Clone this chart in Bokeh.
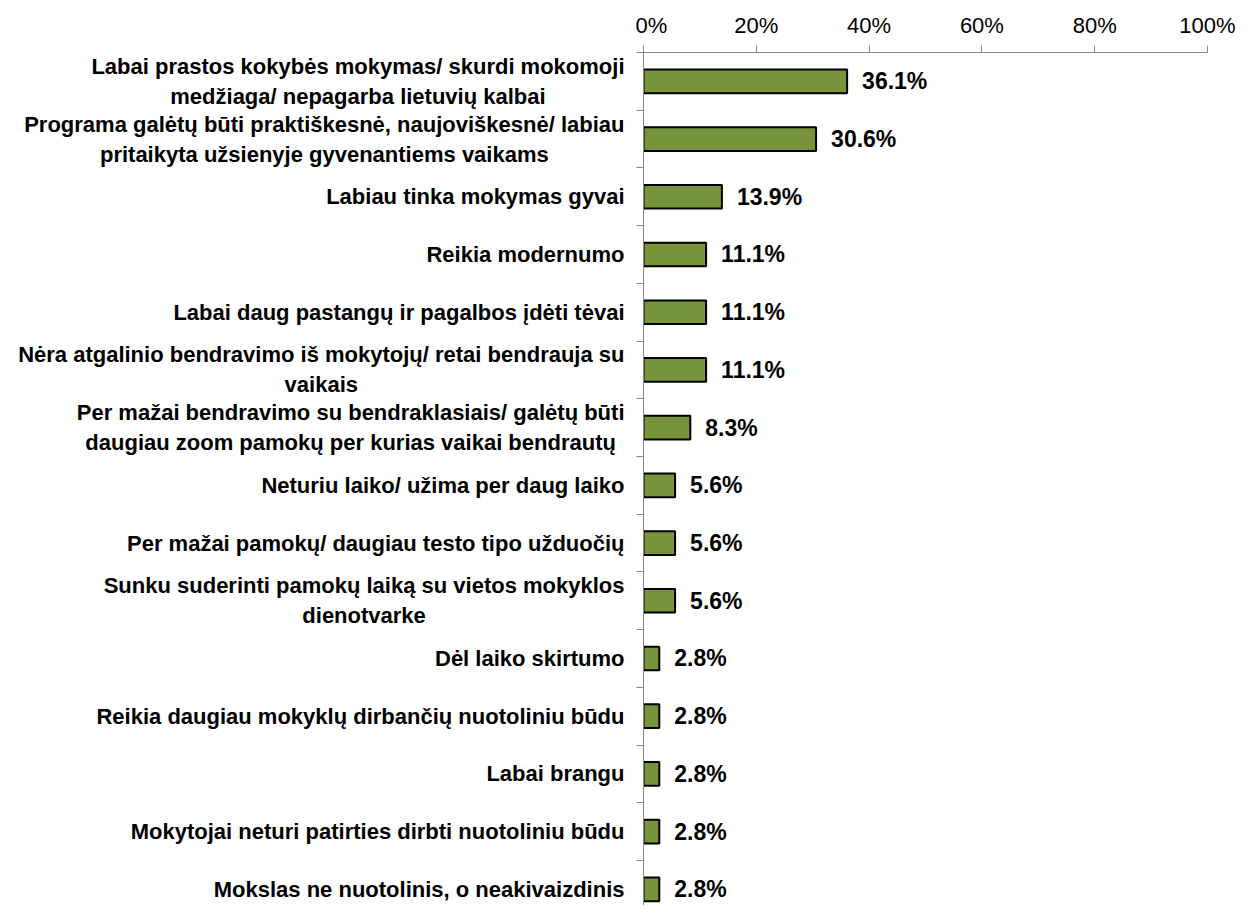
from bokeh.plotting import figure
from bokeh.layouts import row
from bokeh.models import Range1d, FixedTicker, PrintfTickFormatter
from bokeh.core.properties import value
from bokeh.embed import file_html
from bokeh.resources import INLINE

categories = [
    "Labai prastos kokybės mokymas/ skurdi mokomoji\nmedžiaga/ nepagarba lietuvių kalbai",
    "Programa galėtų būti praktiškesnė, naujoviškesnė/ labiau\npritaikyta užsienyje gyvenantiems vaikams",
    "Labiau tinka mokymas gyvai",
    "Reikia modernumo",
    "Labai daug pastangų ir pagalbos įdėti tėvai",
    "Nėra atgalinio bendravimo iš mokytojų/ retai bendrauja su\nvaikais",
    "Per mažai bendravimo su bendraklasiais/ galėtų būti\ndaugiau zoom pamokų per kurias vaikai bendrautų",
    "Neturiu laiko/ užima per daug laiko",
    "Per mažai pamokų/ daugiau testo tipo užduočių",
    "Sunku suderinti pamokų laiką su vietos mokyklos\ndienotvarke",
    "Dėl laiko skirtumo",
    "Reikia daugiau mokyklų dirbančių nuotoliniu būdu",
    "Labai brangu",
    "Mokytojai neturi patirties dirbti nuotoliniu būdu",
    "Mokslas ne nuotolinis, o neakivaizdinis",
]
values = [36.1, 30.6, 13.9, 11.1, 11.1, 11.1, 8.3, 5.6, 5.6, 5.6, 2.8, 2.8, 2.8, 2.8, 2.8]
value_labels = ["36.1%", "30.6%", "13.9%", "11.1%", "11.1%", "11.1%", "8.3%", "5.6%", "5.6%", "5.6%",
                "2.8%", "2.8%", "2.8%", "2.8%", "2.8%"]
x_ticks = [0, 20, 40, 60, 80, 100]

idx = list(range(len(categories)))
FONT = "Liberation Sans"
AXIS_COLOR = "#868686"
H = 905
LEFT_W = 635
RIGHT_W = 1235 - LEFT_W

y_range = Range1d(14.28, -0.5)

# ---- label panel (left) ----
lab = figure(width=LEFT_W, height=H, output_backend="svg", toolbar_location=None,
             x_range=Range1d(0, 1), y_range=y_range,
             min_border_left=0, min_border_right=0, min_border_top=52, min_border_bottom=0)
lab.axis.visible = False
lab.grid.visible = False
lab.outline_line_color = None
lab.background_fill_color = "white"
lab.border_fill_color = "white"
lab.text(x=[1] * len(categories), y=idx, text=categories, x_offset=-11,
         anchor="center_right", text_align="center", text_baseline="middle",
         text_line_height=1.2,
         text_font=value(FONT), text_font_style="bold", text_font_size="22px",
         text_color="black")

# ---- chart panel (right) ----
p = figure(width=RIGHT_W, height=H, output_backend="svg", toolbar_location=None,
           x_range=Range1d(0, 100), y_range=y_range,
           x_axis_location="above",
           min_border_left=8, min_border_right=28, min_border_top=52, min_border_bottom=0)
p.outline_line_color = None
p.xgrid.grid_line_color = None
p.ygrid.grid_line_color = None
p.background_fill_color = "white"
p.border_fill_color = "white"

xa = p.xaxis[0]
xa.ticker = FixedTicker(ticks=x_ticks, minor_ticks=[])
xa.formatter = PrintfTickFormatter(format="%d%%")
xa.axis_line_color = AXIS_COLOR
xa.major_tick_line_color = AXIS_COLOR
xa.major_tick_out = 7
xa.major_tick_in = 0
xa.minor_tick_line_color = None
xa.major_label_text_font = FONT
xa.major_label_text_font_size = "22px"
xa.major_label_text_color = "black"
xa.major_label_standoff = 8

ya = p.yaxis[0]
ya.ticker = FixedTicker(ticks=[], minor_ticks=[i - 0.5 for i in range(len(categories) + 1)])
ya.axis_line_color = AXIS_COLOR
ya.minor_tick_line_color = AXIS_COLOR
ya.minor_tick_out = 7
ya.minor_tick_in = 0
ya.major_tick_line_color = None
ya.major_tick_out = 0
ya.major_label_standoff = 0
ya.major_label_text_font_size = "0px"

p.hbar(y=idx, left=0, right=values, height=0.41,
       fill_color="#77933C", line_color="black", line_width=2)

p.text(x=values, y=idx, text=value_labels, x_offset=15,
       text_align="left", text_baseline="middle",
       text_font=value(FONT), text_font_style="bold", text_font_size="23px",
       text_color="black")

layout = row(lab, p, spacing=0)
open("out.html", "w").write(file_html(layout, INLINE))
